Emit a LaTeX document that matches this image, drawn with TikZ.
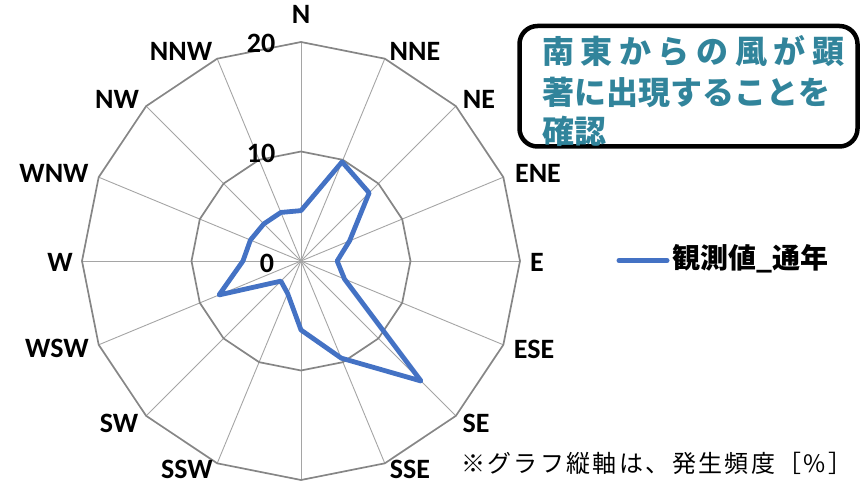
\documentclass[tikz,border=0pt]{standalone}
\usepackage{fontspec}
\setmainfont{Carlito}
\newfontfamily\jp{Noto Sans CJK JP}
\usetikzlibrary{calc}
\definecolor{serblue}{HTML}{4472C4}
\definecolor{tealtxt}{RGB}{49,132,155}
\definecolor{ringgray}{RGB}{134,134,134}
\definecolor{spokegray}{RGB}{165,165,165}
\begin{document}
\begin{tikzpicture}[x=1pt,y=1pt,
  lbl/.style={font=\fontsize{28}{28}\selectfont\bfseries, inner sep=0pt},
  ring/.style={draw=ringgray, line width=1.7pt, line join=miter},
  spoke/.style={draw=spokegray, line width=0.9pt},
  series/.style={draw=serblue, line width=4.8pt, line join=round},
  jpline/.style={font=\jp\bfseries\fontsize{32}{32}\selectfont, text=tealtxt, inner sep=0pt, anchor=west},
]
\useasboundingbox (0,0) rectangle (861,-486);
\coordinate (C) at (301,-261);
\def\R{219}
% outer and middle ring vertices
\foreach \i in {0,...,15} {
  \coordinate (o\i) at ($(C)+({90-22.5*\i}:\R)$);
  \coordinate (m\i) at ($(C)+({90-22.5*\i}:\R/2)$);
}
% spokes
\foreach \i in {0,...,15} { \draw[spoke] (C) -- (o\i); }
% rings
\draw[ring] (o0) \foreach \i in {1,...,15}{ -- (o\i)} -- cycle;
\draw[ring] (m0) \foreach \i in {1,...,15}{ -- (m\i)} -- cycle;
% series
\foreach \v [count=\i from 0] in {4.6,9.8,8.8,4.8,3.3,4.3,15.5,9.6,6.3,3.2,2.6,8.1,5.3,5.0,4.8,4.8} {
  \coordinate (p\i) at ($(C)+({90-22.5*\i}:{\v*10.95})$);
}
\draw[series] (p0) \foreach \i in {1,...,15}{ -- (p\i)} -- cycle;
% direction labels
\node[lbl] (lN)   at (301,-14)  {N};
\node[lbl] (lNNE) at (415,-51)  {NNE};
\node[lbl] (lNE)  at (479,-99)  {NE};
\node[lbl] (lENE) at (538,-173) {ENE};
\node[lbl] (lE)   at (537,-262) {E};
\node[lbl] (lESE) at (534,-349) {ESE};
\node[lbl] (lSE)  at (476,-423) {SE};
\node[lbl] (lSSE) at (410,-469) {SSE};
\node[lbl] (lSSW) at (187,-469) {SSW};
\node[lbl] (lSW)  at (119,-423) {SW};
\node[lbl] (lWSW) at (57,-348)  {WSW};
\node[lbl] (lW)   at (60,-262)  {W};
\node[lbl] (lWNW) at (54,-173)  {WNW};
\node[lbl] (lNW)  at (117,-99)  {NW};
\node[lbl] (lNNW) at (181,-51)  {NNW};
% axis values
\node[lbl] (v20) at (261,-43)  {20};
\node[lbl] (v10) at (261,-153) {10};
\node[lbl] (v0)  at (267,-263) {0};
% annotation box
\node[draw=black, line width=4.5pt, rounded corners=18pt, minimum width=338pt, minimum height=120.5pt, inner sep=0pt] (box) at (688.5,-86.25) {};
\node[jpline] (t1) at (542,-51) {\makebox[302pt][s]{南\hfill 東\hfill か\hfill ら\hfill の\hfill 風\hfill が\hfill 顕}};
\node[jpline] (t2) at (542,-92) {著に出現することを};
\node[jpline] (t3) at (542,-131) {確認};
% legend
\coordinate (lg1) at (619,-260.5);
\coordinate (lg2) at (667,-260.5);
\draw[draw=serblue, line width=5pt, line cap=round] (lg1) -- (lg2);
\node[font=\jp\bfseries\fontsize{28}{28}\selectfont, inner sep=0pt, anchor=west] (leg) at (672,-259) {観測値\_通年};
% note
\node[font=\jp\fontsize{24}{24}\selectfont, inner sep=0pt, anchor=west] (note) at (461,-463) {\makebox[391pt][s]{※\hfill グ\hfill ラ\hfill フ\hfill 縦\hfill 軸\hfill は\hfill 、\hfill 発\hfill 生\hfill 頻\hfill 度\hfill ［\hfill \%\hfill ］}};
\end{tikzpicture}
\end{document}
